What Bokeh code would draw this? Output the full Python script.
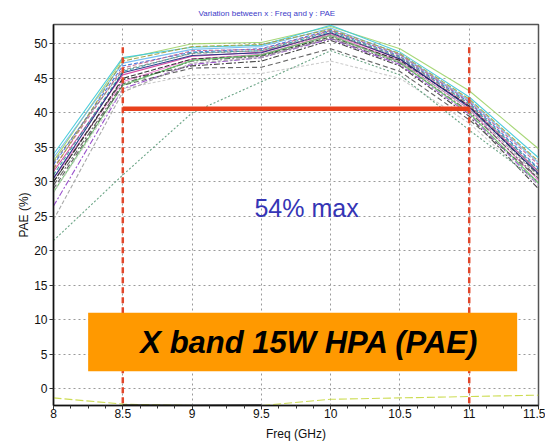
from bokeh.plotting import figure
from bokeh.models import Label, FixedTicker, Range1d
from bokeh.embed import file_html
from bokeh.resources import INLINE

FONT = "Liberation Sans"

# ---------------- data ----------------
freq = [8.0, 8.5, 9.0, 9.5, 10.0, 10.5, 11.0, 11.5]
x_ticks = [8, 8.5, 9, 9.5, 10, 10.5, 11, 11.5]
x_tick_labels = ["8", "8.5", "9", "9.5", "10", "10.5", "11", "11.5"]
y_ticks = [0, 5, 10, 15, 20, 25, 30, 35, 40, 45, 50]

pae_01 = [33.0, 47.8, 50.0, 50.2, 52.5, 49.3, 43.2, 34.8]
pae_02 = [34.0, 48.0, 49.5, 49.8, 52.7, 48.8, 42.3, 33.5]
pae_03 = [33.5, 47.2, 49.2, 49.6, 52.3, 48.5, 41.8, 32.8]
pae_04 = [32.5, 46.8, 48.8, 49.3, 52.0, 48.2, 41.5, 32.0]
pae_05 = [31.5, 45.5, 48.2, 48.8, 51.5, 47.8, 41.0, 31.5]
pae_06 = [30.5, 44.5, 47.8, 48.5, 51.3, 47.5, 40.5, 30.2]
pae_07 = [30.0, 45.0, 47.8, 48.3, 51.0, 47.6, 41.0, 31.0]
pae_08 = [29.5, 44.2, 47.5, 48.2, 50.8, 47.2, 40.2, 30.5]
pae_09 = [26.5, 43.5, 47.0, 48.0, 50.7, 47.0, 39.8, 29.5]
pae_10 = [31.0, 46.0, 48.7, 49.0, 51.8, 48.0, 41.3, 31.8]
pae_11 = [30.5, 45.8, 48.3, 48.7, 51.6, 47.8, 40.8, 31.2]
pae_12 = [32.0, 46.5, 49.0, 49.2, 51.9, 48.4, 41.6, 32.5]
pae_13 = [31.8, 47.5, 49.6, 49.9, 52.1, 48.6, 42.0, 33.0]
pae_14 = [28.5, 44.0, 47.6, 48.4, 51.2, 47.3, 40.0, 29.8]
pae_15 = [32.8, 46.2, 48.6, 49.0, 51.4, 48.1, 41.2, 31.5]
pae_16 = [30.0, 44.8, 46.8, 47.5, 50.5, 46.8, 39.5, 29.0]
pae_17 = [29.0, 44.0, 46.5, 46.6, 49.3, 46.0, 39.0, 30.5]
pae_18 = [28.5, 43.5, 45.5, 45.7, 47.5, 45.0, 38.5, 29.5]
pae_19 = [21.5, 31.0, 40.0, 44.5, 49.0, 45.5, 37.5, 30.0]
pae_20 = [24.5, 43.0, 47.2, 48.0, 50.9, 47.4, 40.6, 30.8]
pae_21 = [-1.3, -2.2, -2.4, -2.4, -1.5, -1.3, -1.1, -0.9]
pae_22 = [float("nan"), -2.3, -2.35, -2.3, float("nan"), float("nan"), float("nan"), float("nan")]

band_edges = [8.5, 11.0]
band_marker_top = 49.5
pae_level = 40.6
annot_text = "54% max"
banner_text = "X band 15W HPA (PAE)"

series = [
    (pae_01, "#9fd36a", "solid"),
    (pae_02, "#3cc8d8", "solid"),
    (pae_03, "#6ab8f0", "solid"),
    (pae_04, "#3a6fd8", "4 2"),
    (pae_05, "#d03c9c", "solid"),
    (pae_06, "#f07ad0", "solid"),
    (pae_07, "#222222", "5 2"),
    (pae_08, "#555555", "6 2 2 2"),
    (pae_09, "#9040c8", "6 2 2 2"),
    (pae_10, "#2a9a9a", "4 2"),
    (pae_11, "#1a2a80", "solid"),
    (pae_12, "#c06090", "4 2"),
    (pae_13, "#a0a040", "5 2"),
    (pae_14, "#60c060", "solid"),
    (pae_15, "#888888", "4 2"),
    (pae_16, "#333333", "6 2 2 2"),
    (pae_17, "#555555", "5 3"),
    (pae_18, "#c8c8c8", "3 2"),
    (pae_19, "#5a9a78", "2 2"),
    (pae_20, "#a0a0a0", "4 2"),
    (pae_21, "#c8d840", "8 3"),
    (pae_22, "#222222", "solid"),
]

# ---------------- figure ----------------
p = figure(
    width=545, height=446,
    output_backend="svg", toolbar_location=None,
    x_range=Range1d(8, 11.5), y_range=Range1d(-2.4, 52.8),
    min_border_left=53, min_border_right=7, min_border_top=24, min_border_bottom=41,
    background_fill_color="white", border_fill_color="white",
)

p.title.text = "Variation between  x : Freq and y : PAE"
p.title.text_font = FONT
p.title.text_font_size = "8px"
p.title.text_font_style = "normal"
p.title.text_color = "#3b3bc8"
p.title.align = "left"
p.title.offset = 145
p.title.standoff = 13

p.outline_line_color = "#555555"
p.outline_line_width = 1.5

for ax in (p.xaxis[0], p.yaxis[0]):
    ax.axis_line_color = "#111111"
    ax.axis_line_width = 1.5
    ax.major_tick_line_color = "#333333"
    ax.major_tick_out = 4
    ax.major_tick_in = 0
    ax.major_label_text_font = FONT
    ax.major_label_text_font_size = "12px"
    ax.major_label_text_color = "#111111"
    ax.axis_label_text_font = FONT
    ax.axis_label_text_font_size = "12px"
    ax.axis_label_text_font_style = "normal"
    ax.axis_label_text_color = "#111111"

p.xaxis.ticker = FixedTicker(ticks=x_ticks,
                             minor_ticks=[8 + 0.125 * i for i in range(29)])
p.xaxis.major_label_overrides = {t: l for t, l in zip(x_ticks, x_tick_labels)}
p.xaxis.minor_tick_out = 3
p.xaxis.minor_tick_in = 0
p.xaxis.minor_tick_line_color = "#333333"
p.xaxis.axis_label = "Freq (GHz)"
p.xaxis.major_label_standoff = -1
p.xaxis.axis_label_standoff = 6

p.yaxis.ticker = FixedTicker(ticks=y_ticks)
p.yaxis.minor_tick_line_color = None
p.yaxis.axis_label = "PAE (%)"
p.yaxis.major_label_standoff = 2
p.yaxis.axis_label_standoff = 0

p.grid.grid_line_color = "#9a9a9a"
p.grid.grid_line_dash = "2 3"
p.grid.grid_line_width = 1

# data lines
for vals, col, dash in series:
    p.line(freq, vals, line_color=col, line_width=1.1, line_dash=dash, line_alpha=0.9)

# red band markers
for xe in band_edges:
    p.line([xe, xe], [band_marker_top, -2.4], line_color="#e2462a",
           line_width=2.5, line_dash="6 4")
p.line(band_edges, [pae_level, pae_level], line_color="#e8401c", line_width=4.5)

p.add_layout(Label(x=9.826, y=26.2, text=annot_text, text_font=FONT,
                   text_font_size="25px", text_color="#3535b5",
                   text_align="center", text_baseline="middle"))

# orange banner
p.quad(left=8.25, right=11.346, bottom=2.57, top=11.03,
       fill_color="#ff9900", line_color=None)
p.add_layout(Label(x=9.847, y=6.77, text=banner_text, text_font=FONT,
                   text_font_size="31px", text_font_style="bold italic",
                   text_color="#000000", text_align="center",
                   text_baseline="middle"))

open("out.html", "w").write(file_html(p, INLINE))
